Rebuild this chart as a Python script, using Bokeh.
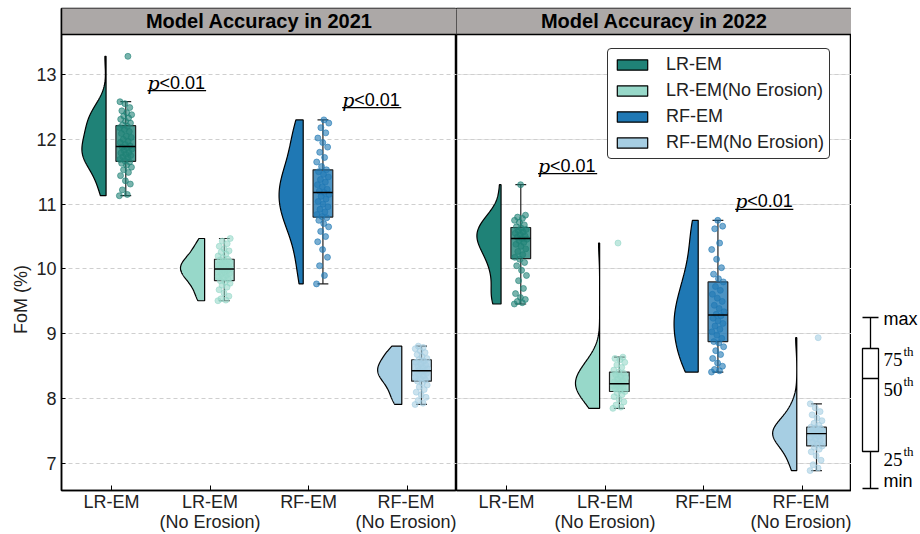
import numpy as np
from bokeh.plotting import figure
from bokeh.models import Range1d, FixedTicker, Legend, LegendItem, Grid, Label
from bokeh.layouts import row
from bokeh.embed import file_html
from bokeh.resources import INLINE
from bokeh.core.properties import value

# ---------------- data ----------------
categories = ["LR-EM", "LR-EM\n(No Erosion)", "RF-EM", "RF-EM\n(No Erosion)"]
legend_labels = ["LR-EM", "LR-EM(No Erosion)", "RF-EM", "RF-EM(No Erosion)"]
years = ["2021", "2022"]
colors = ["#1f8277", "#97d8c9", "#1f78b4", "#a6cee3"]
y_ticks = [7, 8, 9, 10, 11, 12, 13]

fom_2021_lr_em = [11.13, 11.15, 11.22, 11.31, 11.36, 11.44, 11.49, 11.53, 11.57, 11.6, 11.63, 11.65,
                  11.67, 11.69, 11.72, 11.73, 11.75, 11.77, 11.79, 11.8, 11.83, 11.85, 11.87, 11.88,
                  11.9, 11.92, 11.95, 11.97, 12.0, 12.03, 12.05, 12.09, 12.12, 12.15, 12.18, 12.2,
                  12.22, 12.25, 12.28, 12.31, 12.33, 12.36, 12.38, 12.41, 12.44, 12.49, 12.55, 12.58, 13.28]
fom_2021_lr_em_ne = [9.51, 9.52, 9.54, 9.58, 9.63, 9.68, 9.72, 9.75, 9.78, 9.8, 9.82, 9.84, 9.86, 9.88,
                     9.9, 9.92, 9.93, 9.95, 9.96, 9.98, 9.99, 10.0, 10.01, 10.02, 10.04, 10.05, 10.06,
                     10.08, 10.09, 10.11, 10.12, 10.14, 10.15, 10.17, 10.2, 10.23, 10.26, 10.28, 10.31,
                     10.35, 10.39, 10.43, 10.47]
fom_2021_rf_em = [9.77, 9.9, 10.05, 10.18, 10.3, 10.42, 10.5, 10.58, 10.65, 10.7, 10.75, 10.79, 10.81,
                  10.84, 10.88, 10.92, 10.96, 11.0, 11.04, 11.08, 11.12, 11.15, 11.18, 11.2, 11.23,
                  11.27, 11.3, 11.34, 11.38, 11.42, 11.46, 11.5, 11.53, 11.58, 11.65, 11.72, 11.8,
                  11.88, 11.95, 12.02, 12.1, 12.18, 12.25, 12.3]
fom_2021_rf_em_ne = [7.91, 7.93, 7.97, 8.02, 8.06, 8.1, 8.14, 8.18, 8.21, 8.24, 8.27, 8.29, 8.31, 8.33,
                     8.35, 8.37, 8.39, 8.41, 8.42, 8.43, 8.45, 8.46, 8.48, 8.5, 8.52, 8.54, 8.56, 8.58,
                     8.6, 8.62, 8.65, 8.68, 8.71, 8.74, 8.77, 8.79, 8.81]
fom_2022_lr_em = [9.46, 9.48, 9.5, 9.53, 9.56, 9.62, 9.7, 9.82, 9.9, 9.98, 10.05, 10.1, 10.15, 10.18,
                  10.22, 10.27, 10.31, 10.35, 10.38, 10.41, 10.44, 10.46, 10.47, 10.49, 10.51, 10.53,
                  10.55, 10.57, 10.59, 10.61, 10.63, 10.65, 10.68, 10.72, 10.75, 10.78, 10.8, 10.83, 11.3]
fom_2022_lr_em_ne = [7.85, 7.87, 7.9, 7.95, 7.99, 8.03, 8.06, 8.09, 8.11, 8.13, 8.15, 8.17, 8.19, 8.2,
                     8.21, 8.22, 8.23, 8.24, 8.26, 8.28, 8.3, 8.32, 8.34, 8.37, 8.39, 8.41, 8.44, 8.48,
                     8.52, 8.56, 8.6, 8.62, 8.64, 10.4]
fom_2022_rf_em = [8.41, 8.43, 8.45, 8.5, 8.55, 8.62, 8.68, 8.74, 8.8, 8.86, 8.88, 8.93, 8.98, 9.03,
                  9.07, 9.12, 9.16, 9.2, 9.24, 9.28, 9.3, 9.34, 9.39, 9.44, 9.5, 9.55, 9.61, 9.67,
                  9.73, 9.8, 9.85, 9.92, 10.02, 10.15, 10.3, 10.4, 10.62, 10.66, 10.75]
fom_2022_rf_em_ne = [6.89, 6.93, 6.98, 7.05, 7.12, 7.18, 7.22, 7.25, 7.27, 7.3, 7.33, 7.36, 7.38, 7.4,
                     7.42, 7.44, 7.45, 7.46, 7.47, 7.48, 7.49, 7.5, 7.51, 7.52, 7.54, 7.55, 7.56, 7.59,
                     7.62, 7.66, 7.7, 7.75, 7.8, 7.86, 7.92, 8.94]

# box statistics
q1_2021 = [11.66, 9.82, 10.80, 8.27]
med_2021 = [11.89, 10.00, 11.18, 8.43]
q3_2021 = [12.21, 10.15, 11.53, 8.60]
lo_2021 = [11.13, 9.51, 9.77, 7.91]
hi_2021 = [12.58, 10.47, 12.30, 8.81]
q1_2022 = [10.16, 8.11, 8.88, 7.27]
med_2022 = [10.47, 8.23, 9.29, 7.46]
q3_2022 = [10.64, 8.41, 9.80, 7.56]
lo_2022 = [9.46, 7.85, 8.41, 6.89]
hi_2022 = [11.30, 8.64, 10.75, 7.92]

pval_text = "<0.01"
pval_x0_2021 = [0.365, 2.34]
pval_x1_2021 = [0.96, 2.94]
pval_y_2021 = [12.75, 12.49]
pval_x0_2022 = [0.32, 2.32]
pval_x1_2022 = [0.92, 2.91]
pval_y_2022 = [11.47, 10.92]

# ---------------- styling ----------------
SANS = "Liberation Sans"
SERIF = "DejaVu Serif"
H = 534
yr = Range1d(6.583, 14.018)
BAND_BOTTOM = 13.617
VIOLIN_EDGE = -0.055
VIOLIN_W = 0.245
BOX_OFF = 0.145
BOX_HW = 0.1
CAP_HW = 0.055


def make_panel(year, samples, q1, med, q3, lo, hi, px0, px1, py, first):
    kw = dict(height=H, x_range=Range1d(-0.507, 3.5), y_range=yr, output_backend="svg",
              toolbar_location=None, min_border_top=8, min_border_bottom=44, min_border_right=0)
    if first:
        p = figure(width=456, min_border_left=61, **kw)
    else:
        p = figure(width=395, min_border_left=0, y_axis_location=None, **kw)
    p.outline_line_color = "black"
    p.outline_line_width = 1.5
    p.outline_line_alpha = 1.0
    p.xgrid.visible = False
    yt = FixedTicker(ticks=y_ticks)
    if first:
        p.yaxis.ticker = yt
        p.ygrid.ticker = yt
        g = p.ygrid[0]
        ax = p.yaxis[0]
        ax.axis_label = "FoM (%)" + "\u00a0" * 20
        ax.axis_label_text_font = SANS
        ax.axis_label_text_font_size = "18px"
        ax.axis_label_text_font_style = "normal"
        ax.axis_label_text_color = "#222222"
        ax.axis_label_standoff = 2
        ax.major_label_text_font = SANS
        ax.major_label_text_font_size = "18px"
        ax.major_label_text_color = "#222222"
        ax.major_tick_in = 4
        ax.major_tick_out = 0
        ax.minor_tick_line_color = None
        ax.major_label_standoff = 5
        ax.axis_line_width = 1.5
    else:
        g = Grid(dimension=1, ticker=yt)
        p.add_layout(g)
    g.grid_line_color = "#cfcfcf"
    g.grid_line_dash = "4 3"
    g.grid_line_width = 1

    xa = p.xaxis[0]
    xa.ticker = FixedTicker(ticks=[0, 1, 2, 3])
    xa.major_label_overrides = {i: c for i, c in enumerate(categories)}
    xa.major_label_text_font = SANS
    xa.major_label_text_font_size = "18px"
    xa.major_label_text_line_height = 1.0
    xa.major_label_text_color = "#222222"
    xa.major_tick_in = 5
    xa.major_tick_out = 0
    xa.minor_tick_line_color = None
    xa.major_label_standoff = 1
    xa.axis_line_width = 1.5

    # title band
    p.quad(left=[-0.6], right=[3.6], bottom=[BAND_BOTTOM], top=[14.2],
           fill_color="#aca8a7", line_color="black", line_width=1.5)
    p.text(x=[1.5], y=[(BAND_BOTTOM + yr.end) / 2], text=[f"Model Accuracy in {year}"],
           text_align="center", text_baseline="middle", text_font=value(SANS),
           text_font_style="bold", text_font_size="20px", text_color="black")

    violins = []
    pos = np.arange(4)
    for i, (vals, c) in enumerate(zip(samples, colors)):
        v = np.asarray(vals, dtype=float)
        grid = np.linspace(v.min(), v.max(), 240)
        bw = v.std(ddof=1) * len(v) ** (-0.2)
        dens = np.exp(-0.5 * ((grid[:, None] - v[None, :]) / bw) ** 2).sum(axis=1)
        edge = pos[i] + VIOLIN_EDGE
        xs = np.concatenate([edge - VIOLIN_W * dens / dens.max(), [edge, edge]])
        ys = np.concatenate([grid, [grid[-1], grid[0]]])
        r = p.patch(xs, ys, fill_color=c, line_color="black", line_width=1.2)
        violins.append(r)

    cx = pos + BOX_OFF
    p.segment(cx, q3, cx, hi, line_color="#222222", line_width=1.2)
    p.segment(cx, lo, cx, q1, line_color="#222222", line_width=1.2)
    p.segment(cx - CAP_HW, hi, cx + CAP_HW, hi, line_color="#222222", line_width=1.2)
    p.segment(cx - CAP_HW, lo, cx + CAP_HW, lo, line_color="#222222", line_width=1.2)
    p.quad(left=cx - BOX_HW, right=cx + BOX_HW, bottom=q1, top=q3, fill_color=colors,
           fill_alpha=0.8, line_color="#222222", line_width=1.2)
    for i, vals in enumerate(samples):
        n = len(vals)
        jit = ((np.arange(n) * 0.6180339887) % 1.0 - 0.5) * 0.13
        p.scatter(cx[i] + jit, vals, size=6, fill_color=colors[i], fill_alpha=0.6,
                  line_color=colors[i], line_alpha=0.6)
    p.segment(cx - BOX_HW, med, cx + BOX_HW, med, line_color="black", line_width=1.4)

    # p-value annotations
    p.segment(px0, py, px1, py, line_color="black", line_width=1.3)
    p.text(x=px0, y=py, text=["p"] * len(px0), text_font=value(SERIF), text_font_style="italic",
           text_font_size="19px", text_baseline="alphabetic", y_offset=-8, text_color="black")
    p.text(x=px0, y=py, text=[pval_text] * len(px0), text_font=value(SANS),
           text_font_size="18px", text_baseline="alphabetic", x_offset=12, y_offset=-8,
           text_color="black")
    return p, violins


p1, _ = make_panel("2021",
                   [fom_2021_lr_em, fom_2021_lr_em_ne, fom_2021_rf_em, fom_2021_rf_em_ne],
                   q1_2021, med_2021, q3_2021, lo_2021, hi_2021,
                   pval_x0_2021, pval_x1_2021, pval_y_2021, True)
p2, vio2 = make_panel("2022",
                      [fom_2022_lr_em, fom_2022_lr_em_ne, fom_2022_rf_em, fom_2022_rf_em_ne],
                      q1_2022, med_2022, q3_2022, lo_2022, hi_2022,
                      pval_x0_2022, pval_x1_2022, pval_y_2022, False)

legend = Legend(items=[LegendItem(label=l, renderers=[r]) for l, r in zip(legend_labels, vio2)],
                location=(151, 331), glyph_width=38, glyph_height=13, label_height=21,
                spacing=5, padding=5, label_standoff=15, label_text_font=SANS,
                label_text_font_size="18px", label_text_color="#222222",
                border_line_color="#333333", border_line_width=1, border_line_alpha=1,
                background_fill_color="white", background_fill_alpha=1, margin=0)
if "border_radius" in Legend.properties():
    legend.border_radius = 4
p2.add_layout(legend)

# ---------------- box-plot key (drawn in page-pixel units, frame spans y 8..490) ----------------
p3 = figure(width=69, height=H, x_range=Range1d(0, 69), y_range=Range1d(490, 8),
            x_axis_location=None, y_axis_location=None, min_border=0, min_border_top=8,
            min_border_bottom=44, output_backend="svg", toolbar_location=None)
p3.outline_line_color = None
p3.grid.visible = False
kc, kl, kr = 19, 11, 27
k_max, k_q3, k_med, k_q1, k_min = 317, 348, 378, 451, 488
p3.segment([kc, kc], [k_max, k_q1], [kc, kc], [k_q3, k_min], line_color="black", line_width=1.3)
p3.segment([kl, kl], [k_max, k_min], [kr, kr], [k_max, k_min], line_color="black", line_width=1.3)
p3.quad(left=[kl], right=[kr], top=[k_q3], bottom=[k_q1], fill_color="white",
        line_color="black", line_width=1.3)
p3.segment([kl], [k_med], [kr], [k_med], line_color="black", line_width=1.3)

p3.add_layout(Label(x=32, y=k_max + 1, text="max", text_baseline="middle", text_font=SANS,
                    text_font_size="18px", text_color="black"))
p3.add_layout(Label(x=32, y=k_min + 2, text="min", text_baseline="bottom", text_font=SANS,
                    text_font_size="18px", text_color="black"))
for txt, yy, ys in (("75", k_q3 + 11, k_q3 + 3), ("50", k_med + 11, k_med + 3),
                    ("25", k_q1 + 8, k_q1)):
    p3.add_layout(Label(x=32, y=yy, text=txt, text_baseline="alphabetic",
                        text_font="Liberation Serif", text_font_size="19px", text_color="black"))
    p3.add_layout(Label(x=52, y=ys, text="th", text_baseline="alphabetic",
                        text_font="Liberation Serif", text_font_size="13px", text_color="black"))

layout = row(p1, p2, p3)
open("out.html", "w").write(file_html(layout, INLINE))
